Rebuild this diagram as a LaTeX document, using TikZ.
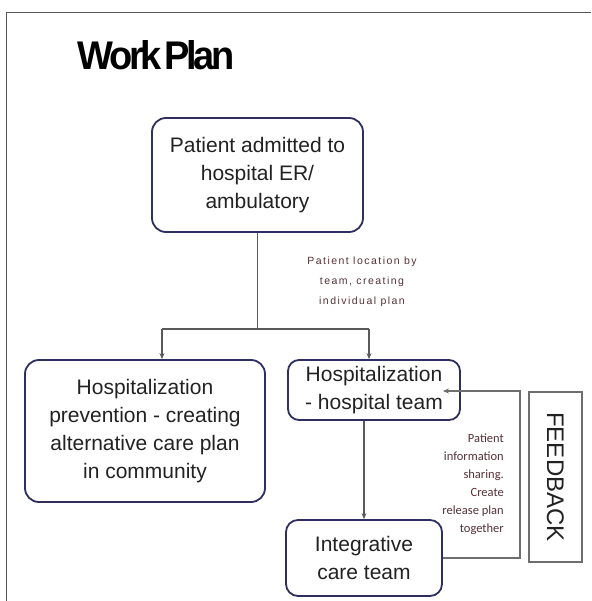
\documentclass[tikz,border=0pt]{standalone}
\usepackage{fontspec}
\setmainfont{Liberation Sans}
\newfontfamily\wpTitleFont[LetterSpace=-9]{Liberation Sans}
\newfontfamily\wpNoteFont[LetterSpace=14]{Liberation Sans}
\newfontfamily\wpSideFont{Carlito}
\usetikzlibrary{arrows.meta,positioning}
\definecolor{wpInk}  {HTML}{222222}
\definecolor{wpNavy} {HTML}{2E2F5E}
\definecolor{wpWire} {HTML}{5A5A5A}
\definecolor{wpFrame}{HTML}{555555}
\definecolor{wpNote} {HTML}{553038}
\definecolor{wpGrey} {HTML}{6E6E6E}

\begin{document}
\begin{tikzpicture}[x=1pt,y=-1pt,
    stepbox/.style={draw=wpNavy,line width=1.8pt,rounded corners=14pt,
      align=center,inner sep=0pt,text=wpInk,
      font=\fontsize{21}{28}\selectfont},
    wire/.style={draw=wpWire,line width=1.3pt},
    flow/.style={wire,-{Stealth[length=6pt,width=5pt]}},
    note/.style={text=wpNote,inner sep=0pt}]
  \useasboundingbox (0,0) rectangle (591,601);
  % frame
  \draw[wpFrame,line width=1.8pt] (6.5,601) |- (591,12.5);
  \node (title) at (156,55) {\wpTitleFont\fontsize{40}{40}\selectfont\bfseries
    \scalebox{0.95}[1]{Work\hspace{-0.12em} Plan}};

  % boxes
  \node[stepbox,minimum width=211pt,minimum height=114pt] (admit) at (257.5,175)
    {Patient admitted to\\hospital ER/\\ambulatory};
  \node[stepbox,minimum width=240pt,minimum height=142pt] (prevent) at (145,431)
    {Hospitalization\\prevention - creating\\alternative care plan\\in community};
  \node[stepbox,minimum width=172pt,minimum height=60pt,rounded corners=11pt] (hosp) at (374,390)
    {Hospitalization\\- hospital team};
  \node[stepbox,minimum width=156pt,minimum height=76pt,rounded corners=12pt] (integ) at (364,558)
    {Integrative\\care team};
  \node[draw=wpGrey,line width=1.6pt,minimum width=53pt,minimum height=170pt,inner sep=0pt] (fbbox) at (555.5,477) {};
  \node[rotate=-90,text=wpInk,font=\fontsize{24}{24}\selectfont] (fbtext) at (fbbox.center) {FEEDBACK};

  % split from the admission box
  \coordinate (split)  at (257.5,329);
  \coordinate (splitL) at (162,329);
  \coordinate (splitR) at (369,329);
  \draw[wire] (admit.south) -- (split);
  \draw[wire] (splitL) -- (splitR);
  \draw[flow] (splitL) -- (splitL |- prevent.north);
  \draw[flow] (splitR) -- (splitR |- hosp.north);
  \draw[flow] (integ.north |- hosp.south) -- (integ.north);

  % feedback loop
  \coordinate (fbk) at (520,391);
  \draw[flow,draw=wpGrey,line width=1.2pt] (integ.east) -| (fbk) -- (integ.east |- fbk);

  % labels
  \node[note,align=center,font=\wpNoteFont\fontsize{10.5}{20}\selectfont] (locnote) at (362,282)
    {Patient location by\\team, creating\\individual plan};
  \node[note,align=right,anchor=east,font=\wpSideFont\fontsize{12.5}{18}\selectfont] (sharenote) at (504,484)
    {Patient\\information\\sharing.\\Create\\release plan\\together};
\end{tikzpicture}
\end{document}
